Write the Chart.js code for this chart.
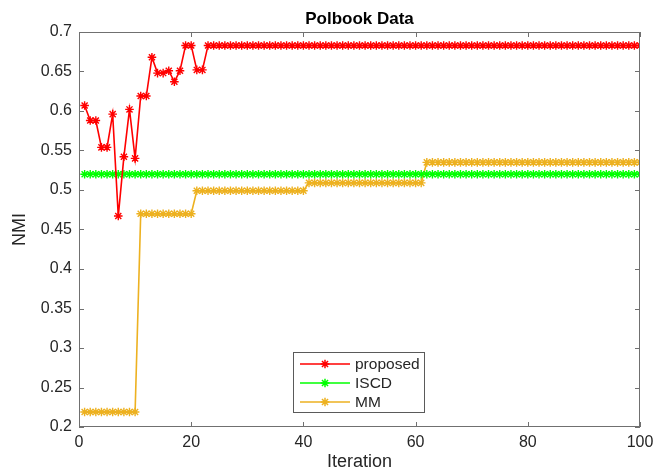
<!DOCTYPE html>
<html>
<head>
<meta charset="utf-8">
<script src="https://cdn.jsdelivr.net/npm/chart.js@4.4.1/dist/chart.umd.min.js"></script>
<style>
html,body{margin:0;padding:0;background:#fff;}
#wrap{width:654px;height:473px;}
</style>
</head>
<body>
<div id="wrap"><canvas id="c" width="654" height="473"></canvas></div>
<script>
const iterations = [1,2,3,4,5,6,7,8,9,10,11,12,13,14,15,16,17,18,19,20,21,22,23,24,25,26,27,28,29,30,31,32,33,34,35,36,37,38,39,40,41,42,43,44,45,46,47,48,49,50,51,52,53,54,55,56,57,58,59,60,61,62,63,64,65,66,67,68,69,70,71,72,73,74,75,76,77,78,79,80,81,82,83,84,85,86,87,88,89,90,91,92,93,94,95,96,97,98,99,100];

const proposed = [0.607,0.588,0.588,0.554,0.554,0.596,0.467,0.542,0.602,0.540,
  0.619,0.619,0.668,0.648,0.648,0.651,0.637,0.651,0.683,0.683,
  0.652,0.652,0.683,0.683,0.683,0.683,0.683,0.683,0.683,0.683,
  0.683,0.683,0.683,0.683,0.683,0.683,0.683,0.683,0.683,0.683,
  0.683,0.683,0.683,0.683,0.683,0.683,0.683,0.683,0.683,0.683,
  0.683,0.683,0.683,0.683,0.683,0.683,0.683,0.683,0.683,0.683,
  0.683,0.683,0.683,0.683,0.683,0.683,0.683,0.683,0.683,0.683,
  0.683,0.683,0.683,0.683,0.683,0.683,0.683,0.683,0.683,0.683,
  0.683,0.683,0.683,0.683,0.683,0.683,0.683,0.683,0.683,0.683,
  0.683,0.683,0.683,0.683,0.683,0.683,0.683,0.683,0.683,0.683];

const iscd = [0.520,0.520,0.520,0.520,0.520,0.520,0.520,0.520,0.520,0.520,
  0.520,0.520,0.520,0.520,0.520,0.520,0.520,0.520,0.520,0.520,
  0.520,0.520,0.520,0.520,0.520,0.520,0.520,0.520,0.520,0.520,
  0.520,0.520,0.520,0.520,0.520,0.520,0.520,0.520,0.520,0.520,
  0.520,0.520,0.520,0.520,0.520,0.520,0.520,0.520,0.520,0.520,
  0.520,0.520,0.520,0.520,0.520,0.520,0.520,0.520,0.520,0.520,
  0.520,0.520,0.520,0.520,0.520,0.520,0.520,0.520,0.520,0.520,
  0.520,0.520,0.520,0.520,0.520,0.520,0.520,0.520,0.520,0.520,
  0.520,0.520,0.520,0.520,0.520,0.520,0.520,0.520,0.520,0.520,
  0.520,0.520,0.520,0.520,0.520,0.520,0.520,0.520,0.520,0.520];

const mm = [0.219,0.219,0.219,0.219,0.219,0.219,0.219,0.219,0.219,0.219,
  0.470,0.470,0.470,0.470,0.470,0.470,0.470,0.470,0.470,0.470,
  0.499,0.499,0.499,0.499,0.499,0.499,0.499,0.499,0.499,0.499,
  0.499,0.499,0.499,0.499,0.499,0.499,0.499,0.499,0.499,0.499,
  0.509,0.509,0.509,0.509,0.509,0.509,0.509,0.509,0.509,0.509,
  0.509,0.509,0.509,0.509,0.509,0.509,0.509,0.509,0.509,0.509,
  0.509,0.535,0.535,0.535,0.535,0.535,0.535,0.535,0.535,0.535,
  0.535,0.535,0.535,0.535,0.535,0.535,0.535,0.535,0.535,0.535,
  0.535,0.535,0.535,0.535,0.535,0.535,0.535,0.535,0.535,0.535,
  0.535,0.535,0.535,0.535,0.535,0.535,0.535,0.535,0.535,0.535];

const seriesNames = ['proposed','ISCD','MM'];
const seriesColors = ['#ff0000','#00ff00','#edb120'];
const xTicks = [0,20,40,60,80,100];
const yTicks = [0.2,0.25,0.3,0.35,0.4,0.45,0.5,0.55,0.6,0.65,0.7];

const FONT = "'Liberation Sans', Arial, Helvetica, sans-serif";
const TEXT = '#262626';
const AXIS = '#707070';

function pts(vals){ return vals.map((v,i)=>({x:iterations[i], y:v})); }

function ds(label, vals, color){
  return {
    label, data: pts(vals),
    borderColor: color, backgroundColor: color,
    borderWidth: 1.6,
    pointStyle: 'star', pointRadius: 4.3, pointBorderWidth: 1.4,
    pointBorderColor: color, pointBackgroundColor: color,
    pointHoverRadius: 4.3, tension: 0
  };
}

const boxPlugin = {
  id: 'matlabBox',
  afterDatasetsDraw(chart){
    const {ctx, chartArea:a, scales:{x, y}} = chart;
    ctx.save();
    ctx.strokeStyle = AXIS; ctx.lineWidth = 1;
    ctx.strokeRect(a.left+0.5, a.top+0.5, a.right-a.left-1, a.bottom-a.top-1);
    const L = 5;
    ctx.beginPath();
    xTicks.forEach(v=>{
      const px = Math.round(x.getPixelForValue(v))+0.5;
      ctx.moveTo(px, a.bottom); ctx.lineTo(px, a.bottom-L);
      ctx.moveTo(px, a.top); ctx.lineTo(px, a.top+L);
    });
    yTicks.forEach(v=>{
      const py = Math.round(y.getPixelForValue(v))+0.5;
      ctx.moveTo(a.left, py); ctx.lineTo(a.left+L, py);
      ctx.moveTo(a.right, py); ctx.lineTo(a.right-L, py);
    });
    ctx.stroke();

    // legend box inside plot
    const bx = 293, by = 352, bw = 131, bh = 60, row = 19;
    ctx.fillStyle = '#fff';
    ctx.fillRect(bx, by, bw, bh);
    ctx.strokeStyle = '#5a5a5a';
    ctx.strokeRect(bx+0.5, by+0.5, bw, bh);
    chart.data.datasets.forEach((d,i)=>{
      const cy = by + 12 + i*row;
      ctx.strokeStyle = d.borderColor; ctx.lineWidth = 1.5;
      ctx.beginPath(); ctx.moveTo(bx+7, cy); ctx.lineTo(bx+57, cy); ctx.stroke();
      Chart.helpers.drawPoint(ctx, {pointStyle:'star', radius:4.3, borderWidth:1.4, rotation:0}, bx+32, cy);
      ctx.fillStyle = TEXT;
      ctx.font = '15.5px ' + FONT;
      ctx.textBaseline = 'middle'; ctx.textAlign = 'left';
      ctx.fillText(d.label, bx+62, cy+1);
    });
    ctx.restore();
  }
};

new Chart(document.getElementById('c'), {
  type: 'line',
  data: { datasets: [
    ds(seriesNames[0], proposed, seriesColors[0]),
    ds(seriesNames[1], iscd, seriesColors[1]),
    ds(seriesNames[2], mm, seriesColors[2])
  ]},
  options: {
    responsive: false, animation: false,
    layout: { padding: { left: 0, right: 14, top: 0, bottom: 0 } },
    plugins: {
      legend: { display: false },
      tooltip: { enabled: false },
      title: {
        display: true, text: 'Polbook Data', fullSize: false,
        color: '#000', font: { family: FONT, size: 17, weight: 'bold', lineHeight: 1.2 },
        padding: { top: 8.8, bottom: 2.8 }
      }
    },
    scales: {
      x: {
        type: 'linear', min: 0, max: 100,
        afterBuildTicks(s){ s.ticks = xTicks.map(v=>({value:v})); },
        afterFit(s){ s.height = 46; s.paddingLeft = 0; s.paddingRight = 0; },
        grid: { display: false, drawTicks: false },
        border: { display: false },
        ticks: { color: TEXT, padding: 6, font: { family: FONT, size: 16 }, maxRotation: 0 },
        title: { display: true, text: 'Iteration', color: TEXT, font: { family: FONT, size: 18 }, padding: { top: 0, bottom: 0 } }
      },
      y: {
        type: 'linear', min: 0.2, max: 0.7,
        afterBuildTicks(s){ s.ticks = yTicks.map(v=>({value:v})); },
        afterFit(s){ s.width = 79; s.paddingTop = 0; s.paddingBottom = 0; },
        grid: { display: false, drawTicks: false },
        border: { display: false },
        ticks: { color: TEXT, padding: 7, font: { family: FONT, size: 16 },
          callback: v => String(Number(v.toFixed(2))) },
        title: { display: true, text: 'NMI', color: TEXT, font: { family: FONT, size: 18 }, padding: { top: 9, bottom: 0 } }
      }
    }
  },
  plugins: [boxPlugin]
});
</script>
</body>
</html>
